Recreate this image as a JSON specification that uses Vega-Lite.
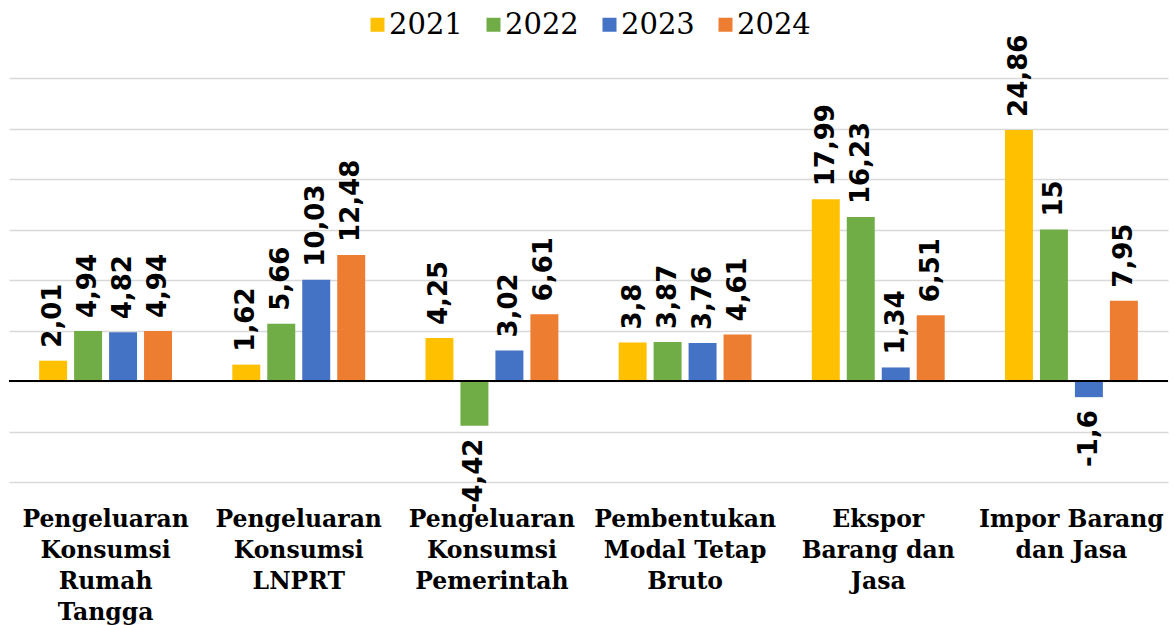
{
  "$schema": "https://vega.github.io/schema/vega-lite/v6.json",
  "width": 1159,
  "height": 404,
  "autosize": {"type": "none"},
  "padding": {"left": 9, "top": 78, "right": 6, "bottom": 143},
  "background": "white",
  "config": {
    "view": {"stroke": null},
    "locale": {"number": {"decimal": ",", "thousands": ".", "grouping": [3], "currency": ["", ""], "minus": "-"}}
  },
  "data": {
    "values": [
      {"category": "Pengeluaran Konsumsi Rumah Tangga", "year": "2021", "value": 2.01},
      {"category": "Pengeluaran Konsumsi Rumah Tangga", "year": "2022", "value": 4.94},
      {"category": "Pengeluaran Konsumsi Rumah Tangga", "year": "2023", "value": 4.82},
      {"category": "Pengeluaran Konsumsi Rumah Tangga", "year": "2024", "value": 4.94},
      {"category": "Pengeluaran Konsumsi LNPRT", "year": "2021", "value": 1.62},
      {"category": "Pengeluaran Konsumsi LNPRT", "year": "2022", "value": 5.66},
      {"category": "Pengeluaran Konsumsi LNPRT", "year": "2023", "value": 10.03},
      {"category": "Pengeluaran Konsumsi LNPRT", "year": "2024", "value": 12.48},
      {"category": "Pengeluaran Konsumsi Pemerintah", "year": "2021", "value": 4.25},
      {"category": "Pengeluaran Konsumsi Pemerintah", "year": "2022", "value": -4.42},
      {"category": "Pengeluaran Konsumsi Pemerintah", "year": "2023", "value": 3.02},
      {"category": "Pengeluaran Konsumsi Pemerintah", "year": "2024", "value": 6.61},
      {"category": "Pembentukan Modal Tetap Bruto", "year": "2021", "value": 3.8},
      {"category": "Pembentukan Modal Tetap Bruto", "year": "2022", "value": 3.87},
      {"category": "Pembentukan Modal Tetap Bruto", "year": "2023", "value": 3.76},
      {"category": "Pembentukan Modal Tetap Bruto", "year": "2024", "value": 4.61},
      {"category": "Ekspor Barang dan Jasa", "year": "2021", "value": 17.99},
      {"category": "Ekspor Barang dan Jasa", "year": "2022", "value": 16.23},
      {"category": "Ekspor Barang dan Jasa", "year": "2023", "value": 1.34},
      {"category": "Ekspor Barang dan Jasa", "year": "2024", "value": 6.51},
      {"category": "Impor Barang dan Jasa", "year": "2021", "value": 24.86},
      {"category": "Impor Barang dan Jasa", "year": "2022", "value": 15},
      {"category": "Impor Barang dan Jasa", "year": "2023", "value": -1.6},
      {"category": "Impor Barang dan Jasa", "year": "2024", "value": 7.95}
    ]
  },
  "encoding": {
    "x": {
      "field": "category",
      "type": "nominal",
      "sort": null,
      "scale": {"paddingInner": 0.312, "paddingOuter": 0.156},
      "axis": {
        "title": null,
        "orient": "bottom",
        "domain": false,
        "ticks": false,
        "grid": false,
        "labelAngle": 0,
        "labelFont": "DejaVu Serif",
        "labelFontWeight": "bold",
        "labelFontSize": 23.5,
        "labelColor": "#000000",
        "labelLineHeight": 31,
        "labelPadding": 25,
        "labelBaseline": "top",
        "labelLimit": 0,
        "labelExpr": "datum.value == 'Pengeluaran Konsumsi Rumah Tangga' ? ['Pengeluaran','Konsumsi','Rumah','Tangga'] : datum.value == 'Pengeluaran Konsumsi LNPRT' ? ['Pengeluaran','Konsumsi','LNPRT'] : datum.value == 'Pengeluaran Konsumsi Pemerintah' ? ['Pengeluaran','Konsumsi','Pemerintah'] : datum.value == 'Pembentukan Modal Tetap Bruto' ? ['Pembentukan','Modal Tetap','Bruto'] : datum.value == 'Ekspor Barang dan Jasa' ? ['Ekspor','Barang dan','Jasa'] : ['Impor Barang','dan Jasa']"
      }
    },
    "xOffset": {"field": "year", "type": "nominal", "scale": {"paddingInner": 0.2, "paddingOuter": 0}},
    "y": {
      "field": "value",
      "type": "quantitative",
      "scale": {"domain": [-10, 30], "nice": false, "zero": false},
      "axis": {
        "title": null,
        "labels": false,
        "ticks": false,
        "domain": false,
        "values": [-10, -5, 0, 5, 10, 15, 20, 25, 30],
        "gridColor": "#D9D9D9",
        "gridWidth": 1.5
      }
    }
  },
  "layer": [
    {
      "mark": {"type": "bar"},
      "encoding": {
        "color": {
          "field": "year",
          "type": "nominal",
          "scale": {"domain": ["2021", "2022", "2023", "2024"], "range": ["#FFC000", "#70AD47", "#4472C4", "#ED7D31"]},
          "legend": {
            "title": null,
            "orient": "none",
            "direction": "horizontal",
            "legendX": 354,
            "legendY": -68,
            "symbolType": "square",
            "symbolSize": 196,
            "symbolStrokeWidth": 0,
            "labelFont": "DejaVu Serif",
            "labelFontSize": 29,
            "labelColor": "#000000",
            "labelOffset": -3,
            "columnPadding": 16,
            "padding": 0
          }
        }
      }
    },
    {
      "transform": [{"filter": "datum.value >= 0"}],
      "mark": {"type": "text", "angle": 270, "align": "left", "baseline": "middle", "dx": 13, "font": "DejaVu Sans", "fontWeight": "bold", "fontSize": 26, "color": "#000000"},
      "encoding": {"text": {"field": "value", "type": "quantitative", "format": "~g"}}
    },
    {
      "transform": [{"filter": "datum.value < 0"}],
      "mark": {"type": "text", "angle": 270, "align": "right", "baseline": "middle", "dx": -13, "font": "DejaVu Sans", "fontWeight": "bold", "fontSize": 26, "color": "#000000"},
      "encoding": {"text": {"field": "value", "type": "quantitative", "format": "~g"}}
    },
    {
      "mark": {"type": "rule", "color": "#000000", "strokeWidth": 1.5},
      "encoding": {"y": {"datum": 0}, "x": null, "xOffset": null}
    }
  ]
}
